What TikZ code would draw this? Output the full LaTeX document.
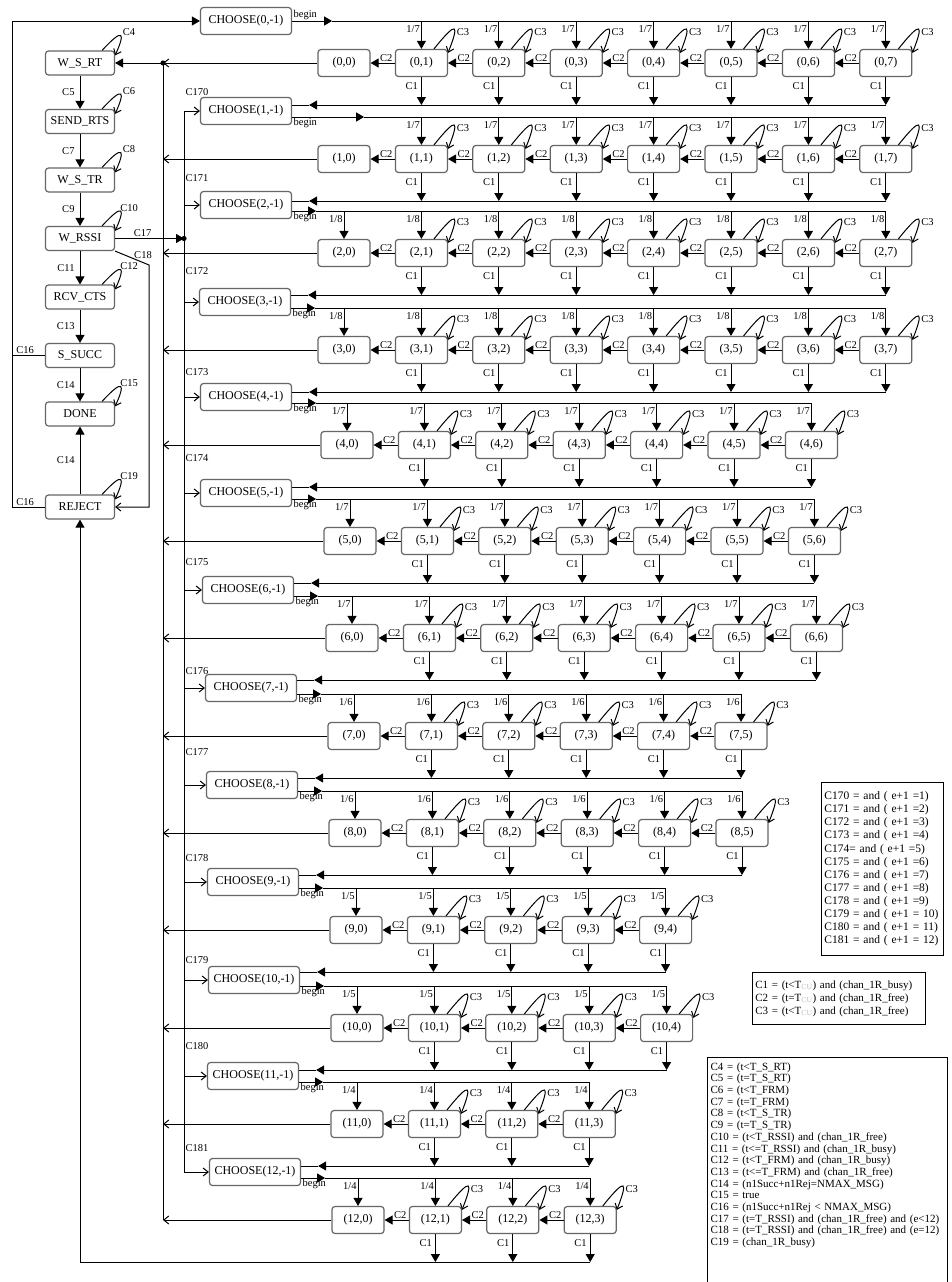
\documentclass[tikz,border=0pt]{standalone}
\usepackage{fontspec}
\setmainfont{Liberation Serif}
\usepackage{tikz}
\usetikzlibrary{positioning, arrows.meta, calc}

\newcommand{\statefont}{\fontsize{12}{14}\selectfont}
\newcommand{\labfont}{\fontsize{10.5}{11}\selectfont}

\begin{document}
\begin{tikzpicture}[x=1pt,y=-1pt,line width=1pt,
    box/.style={draw=black!60,line width=1.2pt,rounded corners=3pt,inner sep=1pt,font=\statefont},
    state/.style={box,minimum width=69pt,minimum height=24pt},
    pair/.style={box,minimum width=52pt,minimum height=27pt},
    choose/.style={box,minimum width=91pt,minimum height=27pt},
    lab/.style={font=\labfont,inner sep=1pt},
    tri/.style={-{Triangle[length=8pt,width=9pt]}},
    bar/.style={-{Straight Barb[length=5pt,width=8pt]}},
    legend/.style={anchor=north west,align=left,inner sep=3pt}]
\useasboundingbox (0,0) rectangle (952,1282);
\fill[white] (0,0) rectangle (952,1282);

\begin{scope}[on grid,node distance=58.5pt]
  \node[state] (w_s_rt) at (80,63) {W\_S\_RT};
  \node[state] (send_rts) [below=of w_s_rt] {SEND\_RTS};
  \node[state] (w_s_tr) [below=of send_rts] {W\_S\_TR};
  \node[state] (w_rssi) [below=of w_s_tr] {W\_RSSI};
  \node[state] (rcv_cts) [below=of w_rssi] {RCV\_CTS};
  \node[state] (s_succ) [below=of rcv_cts] {S\_SUCC};
  \node[state] (done) [below=of s_succ] {DONE};
  \node[state] (reject) [below=93pt of done] {REJECT};
\end{scope}

\path[tri]
  (w_s_rt) edge node[lab,left=4pt] {C5} (send_rts)
  (send_rts) edge node[lab,left=4pt] {C7} (w_s_tr)
  (w_s_tr) edge node[lab,left=4pt] {C9} (w_rssi)
  (w_rssi) edge node[lab,left=4pt] {C11} (rcv_cts)
  (rcv_cts) edge node[lab,left=4pt] {C13} (s_succ)
  (s_succ) edge node[lab,left=4pt] {C14} (done)
  (reject) edge node[lab,left=4pt] {C14} (done);

\foreach \sname/\slab in {w_s_rt/C4,send_rts/C6,w_s_tr/C8,w_rssi/C10,rcv_cts/C12,done/C15,reject/C19}{
  \draw[bar] ([xshift=-13pt]\sname.north east) .. controls +(22,-24) and +(10,-22) .. ([yshift=-5pt]\sname.north east);
  \node[lab] (l_\sname) at ($(\sname.north east)+(14,-18)$) {\slab};
}

\coordinate (jn) at (163,63);
\coordinate (jc) at (184,238.5);
\coordinate (lx) at (12,21);

\foreach \row/\yn/\xz/\jl/\pr/\cx/\pl/\lo in {
    0/63/344/7/7/246/0/0, 1/159/344/7/7/246/7/14, 2/253/344/7/8/246/7/22,
    3/350/344/7/8/245/7/26, 4/445/347/6/7/246/7/20, 5/541/350/6/7/246/6/30,
    6/638/352/6/7/248/6/23, 7/736/354/5/6/251/6/12, 8/833/355/5/6/252/5/28,
    9/930/356/4/5/253/5/19, 10/1028/357/4/5/254/4/15, 11/1124/357/3/4/253/4/25,
    12/1220/358/3/4/255/3/19}{
  \pgfmathtruncatemacro\prow{\row-1}
  \pgfmathtruncatemacro\jst{\row<2 ? 1 : 0}
  \pgfmathtruncatemacro\cnum{169+\row}
  \pgfmathsetmacro\bsh{\row==0 ? 40 : (\row==1 ? 72 : 24)}
  \coordinate (bg_\row) at (0,\yn-42);
  \coordinate (c1_\row) at (0,\yn+42);
  \foreach \col in {0,...,\jl}
    \node[pair] (n_\row_\col) at ({\xz+77.4*\col},\yn) {(\row,\col)};
  \ifnum\row=0
    \node[choose] (ch_0) at (\cx,21) {CHOOSE(0,-1)};
    \node[lab,anchor=south west] (b_0) at (ch_0.east) {begin};
  \else
    \node[choose] (ch_\row) at (\cx,\yn-48) {CHOOSE(\row,-1)};
    \node[lab,anchor=north west] (b_\row) at (ch_\row.east |- bg_\row) {begin};
    \draw[tri] (n_\prow_\pl |- c1_\prow) -- ($(ch_\row.east |- c1_\prow)+(17,0)$);
    \draw ($(ch_\row.east |- c1_\prow)+(17,0)$) -- (ch_\row.east |- c1_\prow);
    \draw[bar] (jc |- ch_\row) -- (ch_\row);
    \node[lab,anchor=south west] (e_\row) at ($(jc |- ch_\row)+(0,-\lo)$) {C\cnum};
    \draw[bar] (n_\row_0) -- (n_\row_0 -| jn);
  \fi
  \draw[tri] (ch_\row.east |- bg_\row) -- ++(\bsh,0);
  \draw ($(ch_\row.east |- bg_\row)+(\bsh,0)$) -- (n_\row_\jl |- bg_\row);
  \foreach \col in {\jst,...,\jl}
    \draw[tri] (n_\row_\col |- bg_\row) -- node[lab,left,pos=0.3] {1/\pr} (n_\row_\col);
  \foreach \col in {1,...,\jl}{
    \pgfmathtruncatemacro\pcol{\col-1}
    \draw[tri] (n_\row_\col) -- node[lab,left=2pt,pos=0.32] {C1} (n_\row_\col |- c1_\row);
    \draw[tri] (n_\row_\col) -- node[lab,above,pos=0.35] {C2} (n_\row_\pcol);
    \draw[bar] ([xshift=-14pt]n_\row_\col.north east) .. controls +(24,-30) and +(11,-28) .. ([yshift=-4pt]n_\row_\col.north east);
    \node[lab] (c3_\row_\col) at ($(n_\row_\col.north east)+(15,-17)$) {C3};
  }
  \ifnum\row=12
    \draw[tri] (n_\row_\jl |- c1_\row) -| (reject.south);
  \fi
}

\fill (jn) circle (2.6pt) (jc) circle (2.6pt);
\draw[bar] (n_0_0) -- (jn);
\draw[tri] (jn) -- (w_s_rt);
\draw (jn) -- (jn |- n_12_0);
\draw (jc |- ch_1) -- (jc |- ch_12);
\draw[tri] (w_rssi) -- node[lab,above,pos=0.4] {C17} (jc);
\draw[bar] (w_rssi.south east) -- (149,265) |- (reject.east);
\node[lab] (l_c18) at (143,255) {C18};
\draw (s_succ) -- node[lab,above,pos=0.6] {C16} (s_succ -| lx);
\draw[tri] (reject) -- node[lab,above,pos=0.6] {C16} (reject -| lx) |- (ch_0);

\node[legend,draw,line width=0.8pt,text width=116pt,minimum height=173pt,font=\fontsize{11.5}{13.1}\selectfont] (leg_e) at (821,782)
  {C170 = and ( e+1 =1)\\C171 = and ( e+1 =2)\\C172 = and ( e+1 =3)\\C173 = and ( e+1 =4)\\
   C174= and ( e+1 =5)\\C175 = and ( e+1 =6)\\C176 = and ( e+1 =7)\\C177 = and ( e+1 =8)\\
   C178 = and ( e+1 =9)\\C179 = and ( e+1 = 10)\\C180 = and ( e+1 = 11)\\C181 = and ( e+1 = 12)};
\node[legend,draw,line width=0.8pt,text width=167pt,minimum height=52pt,font=\fontsize{11}{13}\selectfont] (leg_t) at (752,972)
  {C1 = (t<T\textsubscript{\textcolor{black!25}{CU}}) and (chan\_1R\_busy)\\
   C2 = (t=T\textsubscript{\textcolor{black!25}{CU}}) and (chan\_1R\_free)\\
   C3 = (t<T\textsubscript{\textcolor{black!25}{CU}}) and (chan\_1R\_free)};
\draw[line width=0.8pt] (707,1057) rectangle (947,1295);
\node[legend,text width=234pt,font=\fontsize{11}{11.7}\selectfont] (leg_c) at (707,1059)
  {C4 = (t<T\_S\_RT)\\C5 = (t=T\_S\_RT)\\C6 = (t<T\_FRM)\\C7 = (t=T\_FRM)\\
   C8 = (t<T\_S\_TR)\\C9 = (t=T\_S\_TR)\\
   C10 = (t<T\_RSSI) and (chan\_1R\_free)\\C11 = (t<=T\_RSSI) and (chan\_1R\_busy)\\
   C12 = (t<T\_FRM) and (chan\_1R\_busy)\\C13 = (t<=T\_FRM) and (chan\_1R\_free)\\
   C14 = (n1Succ+n1Rej=NMAX\_MSG)\\C15 = true\\C16 = (n1Succ+n1Rej < NMAX\_MSG)\\
   C17 = (t=T\_RSSI) and (chan\_1R\_free) and (e<12)\\
   C18 = (t=T\_RSSI) and (chan\_1R\_free) and (e=12)\\C19 = (chan\_1R\_busy)};
\end{tikzpicture}
\end{document}
